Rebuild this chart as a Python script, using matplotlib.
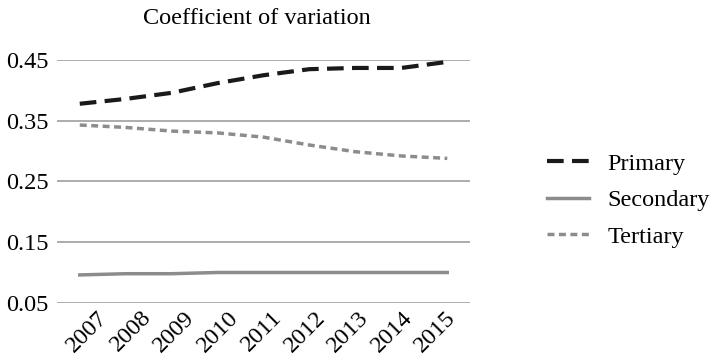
import matplotlib
matplotlib.use("Agg")
import matplotlib.pyplot as plt
from matplotlib.transforms import ScaledTranslation

years = ["2007", "2008", "2009", "2010", "2011", "2012", "2013", "2014", "2015"]
primary = [0.378, 0.386, 0.396, 0.412, 0.425, 0.435, 0.437, 0.437, 0.447]
secondary = [0.096, 0.098, 0.098, 0.100, 0.100, 0.100, 0.100, 0.100, 0.100]
tertiary = [0.343, 0.339, 0.333, 0.330, 0.323, 0.310, 0.299, 0.292, 0.288]
yticks = [0.05, 0.15, 0.25, 0.35, 0.45]

plt.rcParams['font.family'] = ['Liberation Serif', 'DejaVu Serif']
FS = 17.5

fig = plt.figure(figsize=(7.19, 3.64), dpi=100)
ax = fig.add_axes([0.079, 0.168, 0.575, 0.667])

x = list(range(len(years)))
l1, = ax.plot(x, primary, color='#1a1a1a', lw=3, dashes=(4, 2), label='Primary',
              solid_capstyle='butt', dash_capstyle='butt')
l2, = ax.plot(x, secondary, color='#8c8c8c', lw=2.5, label='Secondary')
l3, = ax.plot(x, tertiary, color='#8c8c8c', lw=2.5, dashes=(2, 1.3), label='Tertiary')

ax.set_xlim(-0.5, len(years) - 0.5)
ax.set_ylim(0.05, 0.45)
ax.set_yticks(yticks)
ax.set_yticklabels([f"{v:.2f}" for v in yticks], fontsize=FS)
ax.set_xticks(x)
ax.set_xticklabels(years, rotation=45, ha='right', rotation_mode='anchor', fontsize=FS)
ax.tick_params(axis='both', length=0, pad=6)
ax.tick_params(axis='x', pad=3)
# Excel packs the rotated labels slightly tighter than the category spacing
for i, lab in enumerate(ax.get_xticklabels()):
    dx = (17.0 - 2.4 * i) / 100.0
    lab.set_transform(lab.get_transform() + ScaledTranslation(dx, 0, fig.dpi_scale_trans))
ax.yaxis.grid(True, color='#a6a6a6', lw=1.3)
ax.set_axisbelow(True)
for s in ax.spines.values():
    s.set_visible(False)
for ln in (l1, l2, l3):
    ln.set_clip_on(False)

fig.text(0.357, 0.95, "Coefficient of variation", ha='center', va='center', fontsize=FS)

leg = fig.legend(handles=[l1, l2, l3], loc='center left', bbox_to_anchor=(0.747, 0.45),
                 frameon=False, fontsize=FS, handlelength=1.75, labelspacing=0.6,
                 handletextpad=0.75, borderaxespad=0, borderpad=0.4)

fig.savefig("out.png", dpi=100)
